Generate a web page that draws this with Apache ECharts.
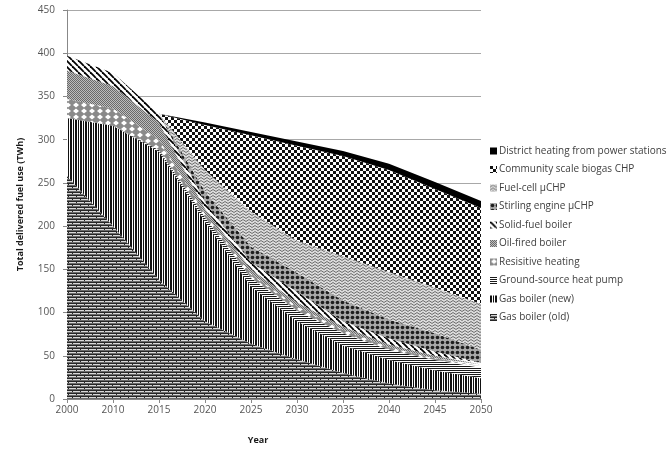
<!DOCTYPE html>
<html><head><meta charset="utf-8">
<script src="https://cdn.jsdelivr.net/npm/echarts@6/dist/echarts.min.js"></script>
<style>html,body{margin:0;padding:0;background:#fff}#c{width:667px;height:450px}</style>
</head><body><div id="c"></div>
<script>
const years = ['2000','2010','2015','2020','2025','2030','2035','2040','2045','2050'];
const gasOld     = [258, 200, 138, 90, 64, 46, 30, 18, 10, 6];
const gasNew     = [67, 116, 148, 115, 66, 44, 32, 27, 23, 18];
const gshp       = [0, 0, 2, 5, 10, 12, 14, 12, 12, 12];
const resistive  = [22, 20, 12, 4, 5, 5, 4, 3, 2, 2];
const oilFired   = [33, 26, 20, 6, 5, 5, 4, 3, 3, 2];
const solidFuel  = [17, 15, 10, 8, 8, 12, 6, 7, 5, 2];
const stirling   = [0, 0, 0, 12, 18, 22, 24, 22, 21, 15];
const fuelCell   = [0, 0, 0, 25, 41, 37, 51, 55, 53, 53];
const community  = [0, 0, 0, 52, 88, 110, 116, 118, 114, 111];
const district   = [0, 0, 0, 3, 4, 5, 6, 7, 8, 8];
const yTicks = [0, 50, 100, 150, 200, 250, 300, 350, 400, 450];

function pat(w, h, draw) {
  const c = document.createElement('canvas');
  c.width = w; c.height = h;
  const g = c.getContext('2d');
  draw(g, w, h);
  return { image: c, repeat: 'repeat' };
}

const P = {
  gasOld: pat(8, 6, (g) => {
    g.fillStyle = '#d8d8d8'; g.fillRect(0, 0, 8, 6);
    g.fillStyle = '#262626';
    g.fillRect(0, 0, 8, 1); g.fillRect(0, 3, 8, 1);
    g.fillRect(0, 1, 1, 2); g.fillRect(4, 4, 1, 2);
    g.fillStyle = '#6a6a6a'; g.fillRect(0, 2, 8, 1); g.fillRect(0, 5, 8, 1);
  }),
  gasNew: pat(5, 1, (g) => {
    g.fillStyle = '#fff'; g.fillRect(0, 0, 5, 1);
    g.fillStyle = '#111'; g.fillRect(0, 0, 2, 1); g.fillRect(3, 0, 1, 1);
  }),
  gshp: pat(1, 2, (g) => {
    g.fillStyle = '#fff'; g.fillRect(0, 0, 1, 2);
    g.fillStyle = '#1a1a1a'; g.fillRect(0, 0, 1, 1);
  }),
  resistive: pat(8, 6, (g) => {
    g.fillStyle = '#8a8a8a'; g.fillRect(0, 0, 8, 6);
    g.fillStyle = '#fff';
    g.beginPath(); g.moveTo(4, 0.5); g.lineTo(7, 3); g.lineTo(4, 5.5); g.lineTo(1, 3); g.closePath(); g.fill();
  }),
  oilFired: pat(2, 2, (g) => {
    g.fillStyle = '#bdbdbd'; g.fillRect(0, 0, 2, 2);
    g.fillStyle = '#6a6a6a'; g.fillRect(0, 0, 1, 1); g.fillRect(1, 1, 1, 1);
  }),
  solidFuel: pat(6, 6, (g) => {
    g.fillStyle = '#fff'; g.fillRect(0, 0, 6, 6);
    g.strokeStyle = '#000'; g.lineWidth = 1.8;
    for (let k = -6; k <= 6; k += 6) { g.beginPath(); g.moveTo(k, 0); g.lineTo(k + 6, 6); g.stroke(); }
  }),
  stirling: pat(5, 5, (g) => {
    g.fillStyle = '#a8a8a8'; g.fillRect(0, 0, 5, 5);
    g.fillStyle = '#1e1e1e'; g.beginPath(); g.arc(2.5, 2.5, 1.8, 0, Math.PI * 2); g.fill();
  }),
  fuelCell: pat(6, 3, (g) => {
    g.fillStyle = '#dcdcdc'; g.fillRect(0, 0, 6, 3);
    g.strokeStyle = '#6e6e6e'; g.lineWidth = 1;
    g.beginPath(); g.moveTo(0, 2.5); g.lineTo(3, 0.5); g.lineTo(6, 2.5); g.stroke();
  }),
  community: pat(6, 6, (g) => {
    g.fillStyle = '#fff'; g.fillRect(0, 0, 6, 6);
    g.fillStyle = '#111'; g.fillRect(0, 0, 3, 3); g.fillRect(3, 3, 3, 3);
  }),
  district: '#000'
};

const seriesDefs = [
  ['Gas boiler (old)', gasOld, P.gasOld],
  ['Gas boiler (new)', gasNew, P.gasNew],
  ['Ground-source heat pump', gshp, P.gshp],
  ['Resisitive heating', resistive, P.resistive],
  ['Oil-fired boiler', oilFired, P.oilFired],
  ['Solid-fuel boiler', solidFuel, P.solidFuel],
  ['Stirling engine \u00b5CHP', stirling, P.stirling],
  ['Fuel-cell \u00b5CHP', fuelCell, P.fuelCell],
  ['Community scale biogas CHP', community, P.community],
  ['District heating from power stations', district, P.district]
];

const series = seriesDefs.map(([name, data, fill]) => ({
  name, type: 'line', stack: 'total', data,
  symbol: 'none', smooth: false,
  lineStyle: { width: 0, opacity: 0 },
  itemStyle: { color: fill },
  areaStyle: { color: fill, opacity: 1 },
  emphasis: { disabled: true },
  animation: false
}));

const legendData = seriesDefs.slice().reverse().map(([name, , fill]) => ({
  name, icon: 'rect', itemStyle: { color: fill }
}));

const chart = echarts.init(document.getElementById('c'), null, { renderer: 'canvas' });
chart.setOption({
  animation: false,
  backgroundColor: '#fff',
  textStyle: { fontFamily: 'Open Sans' },
  grid: { left: 67, right: 186, top: 10, bottom: 47, containLabel: false },
  legend: {
    orient: 'vertical', left: 485, top: 141,
    itemWidth: 7, itemHeight: 7, itemGap: 8.5,
    textStyle: { fontSize: 10, color: '#404040', fontFamily: 'Open Sans', padding: [0, 0, 0, -3] },
    data: legendData
  },
  xAxis: {
    type: 'category', data: years, boundaryGap: false,
    name: 'Year', nameLocation: 'middle', nameGap: 37,
    nameTextStyle: { fontSize: 9, fontWeight: 'bold', color: '#1a1a1a', padding: [0, 32, 0, 0] },
    axisLine: { lineStyle: { color: '#888' } },
    axisTick: { show: true, length: 4, lineStyle: { color: '#888' }, alignWithLabel: true },
    axisLabel: { fontSize: 10, color: '#555', margin: 6 },
    splitLine: { show: false }
  },
  yAxis: {
    type: 'value', min: 0, max: 450, interval: 50,
    name: 'Total delivered fuel use (TWh)', nameLocation: 'middle', nameGap: 42,
    nameTextStyle: { fontSize: 9, fontWeight: 'bold', color: '#1a1a1a' },
    axisLine: { show: true, lineStyle: { color: '#888' } },
    axisTick: { show: true, length: 4, lineStyle: { color: '#888' } },
    axisLabel: { fontSize: 10, color: '#555', margin: 12,
      formatter: (v) => yTicks.includes(v) ? String(v) : '' },
    splitLine: { show: true, lineStyle: { color: '#a8a8a8', width: 1 } }
  },
  series
});
</script></body></html>
